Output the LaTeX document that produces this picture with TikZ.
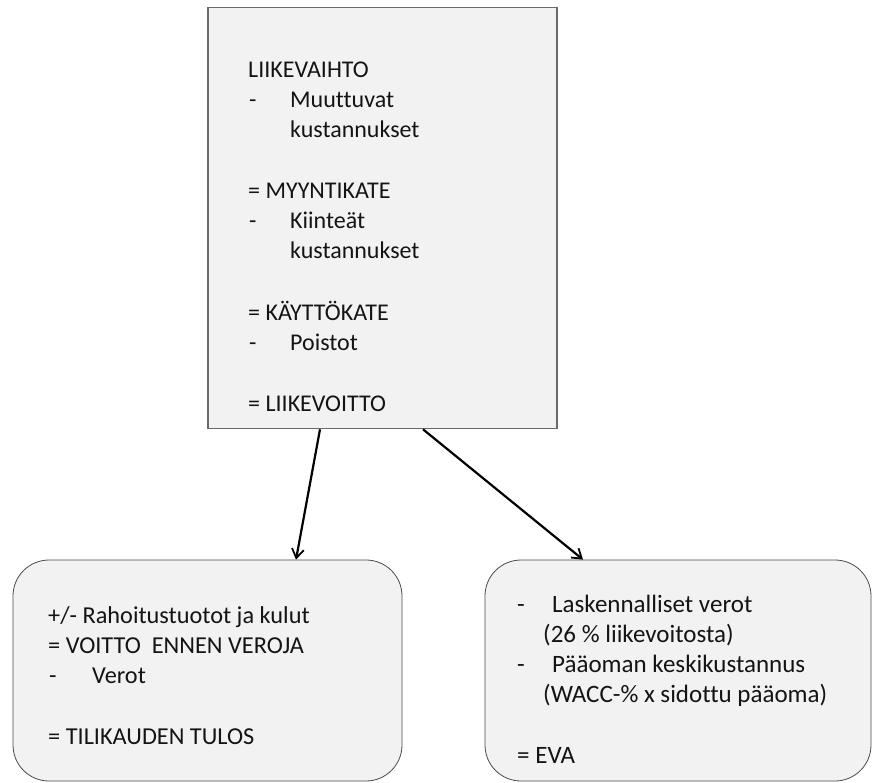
\documentclass[tikz,border=0pt]{standalone}
\usepackage{fontspec}
\setmainfont{Carlito}[Ligatures={NoCommon}]
\usetikzlibrary{arrows.meta}
\definecolor{boxfill}{HTML}{F2F2F2}
\definecolor{boxline}{HTML}{6A6A6A}
\definecolor{ink}{HTML}{141414}
\begin{document}
\begin{tikzpicture}[x=1pt,y=-1pt,
  txt/.style={anchor=base west,inner sep=0pt,text=ink,font=\fontsize{24}{28}\selectfont},
  txtl/.style={txt,font=\fontsize{24.3}{28}\selectfont},
  txtr/.style={txt,font=\fontsize{25}{29}\selectfont},
  sqbox/.style={draw=boxline,line width=1.6pt,fill=boxfill,rectangle,inner sep=0pt},
  rbox/.style={draw=black!70,line width=0.8pt,fill=boxfill,rectangle,rounded corners=36pt,inner sep=0pt},
  link/.style={line width=2.2pt,-{Straight Barb[length=9pt,width=12pt,line width=1.8pt]}}]
\useasboundingbox (0,0) rectangle (873,782);
\fill[white] (0,0) rectangle (873,782);

% boxes
\node[sqbox,minimum width=349pt,minimum height=421pt] (top) at (382.5,218) {};
\node[rbox,minimum width=389pt,minimum height=221pt] (left) at (207.5,670.5) {};
\node[rbox,minimum width=386pt,minimum height=221pt] (right) at (678,670.5) {};

% income statement steps
\node[txt] (t1) at (248,77) {LIIKEVAIHTO};
\node[txt] (t2d) at (249,107) {-};
\node[txt] (t2) at (290,107) {Muuttuvat};
\node[txt] (t3) at (290,137) {kustannukset};
\node[txt] (t4) at (248,198) {= MYYNTIKATE};
\node[txt] (t5d) at (249,228) {-};
\node[txt] (t5) at (290,228) {Kiinteät};
\node[txt] (t6) at (290,258) {kustannukset};
\node[txt] (t7) at (248,320) {= KÄYTTÖKATE};
\node[txt] (t8d) at (249,350) {-};
\node[txt] (t8) at (290,350) {Poistot};
\node[txt] (t9) at (248,411) {= LIIKEVOITTO};

% profit for the period
\node[txtl] (l1) at (48,623) {+/- Rahoitustuotot ja kulut};
\node[txtl] (l2) at (48,653) {= VOITTO\ \ ENNEN VEROJA};
\node[txtl] (l3d) at (49,683) {-};
\node[txtl] (l3) at (92,683) {Verot};
\node[txtl] (l4) at (48,744) {= TILIKAUDEN TULOS};

% economic value added
\node[txtr] (r1d) at (517,612) {-};
\node[txtr] (r1) at (552,612) {Laskennalliset verot};
\node[txtr] (r2) at (543,642) {(26 \% liikevoitosta)};
\node[txtr] (r3d) at (517,672) {-};
\node[txtr] (r3) at (552,672) {Pääoman keskikustannus};
\node[txtr] (r4) at (543,702) {(WACC-\% x sidottu pääoma)};
\node[txtr] (r5) at (517,763) {= EVA};

% connectors
\coordinate (a1) at (top.south -| 320,0);
\coordinate (a2) at (left.north -| 296,0);
\coordinate (b1) at (top.south -| 423,0);
\coordinate (b2) at (right.north -| 583,0);
\draw[link] (a1) -- (a2);
\draw[link] (b1) -- (b2);
\end{tikzpicture}
\end{document}
